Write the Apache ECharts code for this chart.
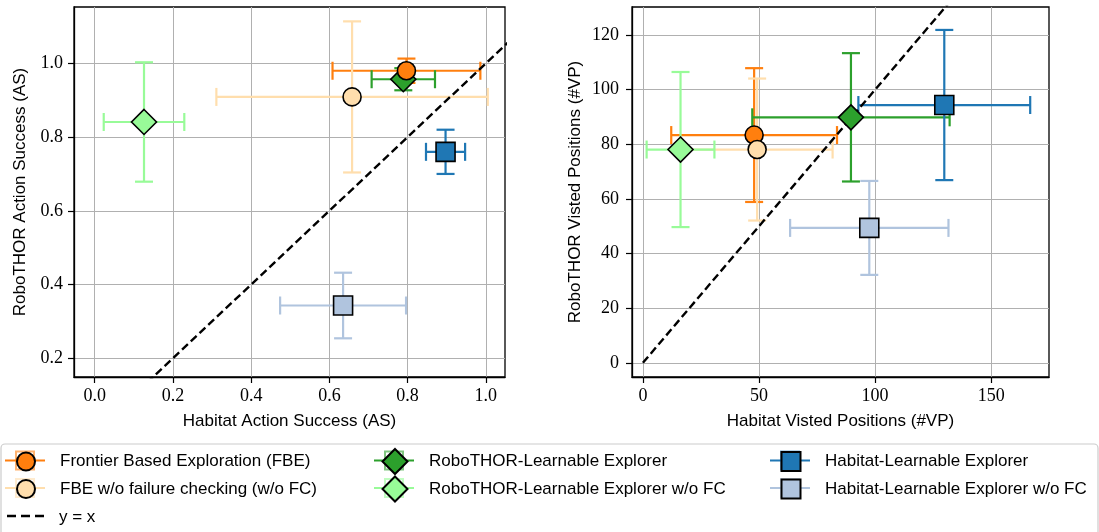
<!DOCTYPE html>
<html><head><meta charset="utf-8">
<script src="https://cdn.jsdelivr.net/npm/echarts@6/dist/echarts.min.js"></script>
<style>html,body{margin:0;padding:0;background:#fff}#c{width:1099px;height:532px}</style>
</head><body><div id="c"></div>
<script>
// ---------------- data ----------------
const methods = [
  'Frontier Based Exploration (FBE)',
  'FBE w/o failure checking (w/o FC)',
  'RoboTHOR-Learnable Explorer',
  'RoboTHOR-Learnable Explorer w/o FC',
  'Habitat-Learnable Explorer',
  'Habitat-Learnable Explorer w/o FC'
];
const diagName = 'y = x';
// Action Success (AS)
const asHabitat      = [0.797, 0.658, 0.789, 0.126, 0.897, 0.635];
const asHabitatErr   = [0.189, 0.347, 0.081, 0.103, 0.050, 0.161];
const asRobothor     = [0.980, 0.909, 0.957, 0.841, 0.760, 0.343];
const asRobothorErr  = [0.033, 0.205, 0.030, 0.162, 0.060, 0.089];
// Visited Positions (#VP)
const vpHabitat      = [47.9, 49.2, 89.6, 16.2, 129.8, 97.5];
const vpHabitatErr   = [35.7, 32.5, 42.5, 14.6, 37.0, 34.1];
const vpRobothor     = [83.4, 78.1, 89.9, 78.1, 94.4, 49.4];
const vpRobothorErr  = [24.5, 26.0, 23.5, 28.4, 27.5, 17.2];
// y = x reference line ends
const asDiag = [0, 1.2];
const vpDiag = [0, 140];
// tick labels
const asTicksX = [0, 0.2, 0.4, 0.6, 0.8, 1.0];
const asTicksY = [0.2, 0.4, 0.6, 0.8, 1.0];
const vpTicksX = [0, 50, 100, 150];
const vpTicksY = [0, 20, 40, 60, 80, 100, 120];

// ---------------- styles ----------------
const lineColors = ['#ff7f0e', '#ffdead', '#2ca02c', '#98fb98', '#1f77b4', '#b0c4de'];
const symbols = ['circle', 'circle', 'diamond', 'diamond', 'rect', 'rect'];
const symbolSizes = [18, 18, 25, 25, 19, 19];
const markerZ = [6, 7, 4, 4, 4, 4];
const SANS = 'Liberation Sans';
const SERIF = 'Liberation Serif';
const ERR_W = 2.2;

const chart = echarts.init(document.getElementById('c'), null, {renderer: 'canvas'});

function errRender(color) {
  return function (params, api) {
    const x = api.value(0), y = api.value(1), dx = api.value(2), dy = api.value(3);
    const l = api.coord([x - dx, y]), r = api.coord([x + dx, y]);
    const t = api.coord([x, y + dy]), b = api.coord([x, y - dy]);
    const cap = 9;
    const ln = (x1, y1, x2, y2) => ({type: 'line', shape: {x1, y1, x2, y2},
      style: {stroke: color, lineWidth: ERR_W, fill: null}});
    return {type: 'group', children: [
      ln(l[0], l[1], r[0], r[1]),
      ln(t[0], t[1], b[0], b[1]),
      ln(l[0], l[1] - cap, l[0], l[1] + cap),
      ln(r[0], r[1] - cap, r[0], r[1] + cap),
      ln(t[0] - cap, t[1], t[0] + cap, t[1]),
      ln(b[0] - cap, b[1], b[0] + cap, b[1])
    ]};
  };
}

const series = [];
const panels = [
  {xs: asHabitat, xe: asHabitatErr, ys: asRobothor, ye: asRobothorErr, diag: asDiag},
  {xs: vpHabitat, xe: vpHabitatErr, ys: vpRobothor, ye: vpRobothorErr, diag: vpDiag}
];
panels.forEach((p, k) => {
  methods.forEach((m, i) => {
    series.push({
      type: 'custom', name: m + ' (error)', xAxisIndex: k, yAxisIndex: k, z: 2, silent: true,
      renderItem: errRender(lineColors[i]),
      encode: {x: 0, y: 1},
      data: [[p.xs[i], p.ys[i], p.xe[i], p.ye[i]]]
    });
  });
  series.push({
    type: 'line', name: diagName, xAxisIndex: k, yAxisIndex: k, z: 3, silent: true,
    symbol: 'none', showSymbol: false, clip: true,
    lineStyle: {color: '#000', width: 2.4, type: [8, 4]},
    itemStyle: {color: '#000'},
    data: p.diag.map(v => [v, v])
  });
  methods.forEach((m, i) => {
    series.push({
      type: 'scatter', name: m, xAxisIndex: k, yAxisIndex: k, z: markerZ[i], silent: true,
      symbol: symbols[i], symbolSize: symbolSizes[i],
      itemStyle: {color: lineColors[i], borderColor: '#000', borderWidth: 1.6, opacity: 1},
      data: [[p.xs[i], p.ys[i]]]
    });
  });
});

function axisCfg(k, min, max, ticks, name, fmt, gap, margin) {
  return {
    gridIndex: k, type: 'value', min, max,
    name, nameLocation: 'middle', nameGap: gap,
    nameTextStyle: {fontFamily: SANS, fontSize: 17, color: '#000'},
    axisLine: {show: true, onZero: false, lineStyle: {color: '#000', width: 1.3}},
    axisTick: {show: true, inside: false, length: 6, lineStyle: {color: '#000', width: 1.2}, customValues: ticks},
    axisLabel: {customValues: ticks, formatter: fmt, fontFamily: SERIF, fontSize: 18, color: '#000', margin},
    splitLine: {show: true, lineStyle: {color: '#b0b0b0', width: 1}}
  };
}
const f1 = v => Number(v).toFixed(1);
const f0 = v => String(Math.round(v));

// legend layout
const colCx = [25, 394, 790];
const rowCy = [460.5, 488, 516];
const textOff = 34;
const legendSlots = [[0, 0], [0, 1], [1, 0], [1, 1], [2, 0], [2, 1]];
const legends = [];
const graphics = [
  {type: 'rect', z: 0, shape: {x: 1, y: 444, width: 1097, height: 120, r: 4},
   style: {fill: '#fff', stroke: '#cccccc', lineWidth: 1.2}}
];
methods.forEach((m, i) => {
  const [c, r] = legendSlots[i];
  const s = symbolSizes[i];
  const cx = colCx[c], cy = rowCy[r];
  const extra = textOff - s / 2 - 5;
  legends.push({
    data: [{name: m, icon: symbols[i]}], selectedMode: false, padding: 0,
    left: cx - s / 2, top: cy - s / 2, itemWidth: s, itemHeight: s, z: 5,
    formatter: n => '{g| }' + n,
    textStyle: {fontFamily: SANS, fontSize: 17, color: '#000', rich: {g: {width: extra, fontSize: 17}}}
  });
  graphics.push({type: 'line', z: 2, shape: {x1: cx - 20, y1: cy, x2: cx + 20, y2: cy},
    style: {stroke: lineColors[i], lineWidth: ERR_W}});
  graphics.push({type: 'rect', z: 2, shape: {x: cx - 9, y: cy - 9, width: 18, height: 18},
    style: {stroke: lineColors[i], lineWidth: 2, fill: null, opacity: 0.6}});
});
legends.push({
  data: [{name: diagName, icon: 'rect', itemStyle: {color: 'rgba(0,0,0,0)', borderWidth: 0}}],
  selectedMode: false, padding: 0,
  left: colCx[0] - 20, top: rowCy[2] - 7, itemWidth: 40, itemHeight: 14, z: 5,
  formatter: n => '{g| }' + n,
  textStyle: {fontFamily: SANS, fontSize: 17, color: '#000', rich: {g: {width: textOff - 20 - 5, fontSize: 17}}}
});
graphics.push({type: 'line', z: 2, shape: {x1: colCx[0] - 18, y1: rowCy[2], x2: colCx[0] + 20, y2: rowCy[2]},
  style: {stroke: '#000', lineWidth: 2.5, lineDash: [9, 5]}});

chart.setOption({
  animation: false,
  backgroundColor: '#fff',
  grid: [
    {left: 74, top: 7, width: 431, height: 370, show: true, borderColor: '#000', borderWidth: 1.3},
    {left: 632, top: 7, width: 417, height: 370, show: true, borderColor: '#000', borderWidth: 1.3}
  ],
  xAxis: [
    axisCfg(0, -0.053, 1.049, asTicksX, 'Habitat Action Success (AS)', f1, 36, 10),
    axisCfg(1, -4.7, 174.9, vpTicksX, 'Habitat Visted Positions (#VP)', f0, 36, 10)
  ],
  yAxis: [
    axisCfg(0, 0.149, 1.153, asTicksY, 'RoboTHOR Action Success (AS)', f1, 45, 11),
    axisCfg(1, -5.2, 130.3, vpTicksY, 'RoboTHOR Visted Positions (#VP)', f0, 48, 13)
  ],
  legend: legends,
  graphic: graphics,
  series
});
</script></body></html>
